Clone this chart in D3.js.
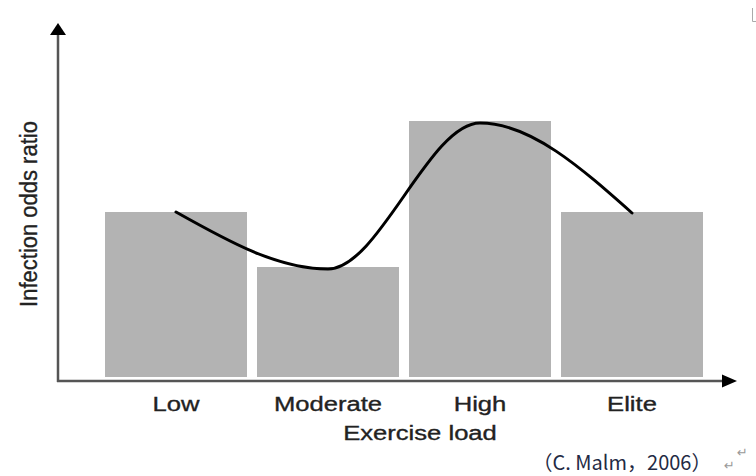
<!DOCTYPE html>
<html><head><meta charset="utf-8">
<script src="https://cdn.jsdelivr.net/npm/d3@7"></script>
<style>
html,body{margin:0;padding:0;background:#fff;}
svg{display:block;}
</style></head>
<body>
<svg id="c" width="756" height="476"></svg>
<script>
// ---- data ----
const categories = ["Low", "Moderate", "High", "Elite"];
const barValues = [165, 110, 256, 165];       // infection odds (arbitrary units)
const curveValues = [165, 108, 254, 164];     // smoothed trend through categories
const xTitle = "Exercise load";
const yTitle = "Infection odds ratio";
const citation = "（C. Malm，2006）";

// ---- layout ----
const svg = d3.select("#c");
const axisX0 = 58, axisY0 = 381;
const x = d3.scaleBand().domain(categories).range([100, 708])
  .paddingInner(0.066).paddingOuter(0.033);
const y = d3.scaleLinear().domain([0, 354]).range([377, 23]);

// bars
svg.append("g").selectAll("rect").data(categories).join("rect")
  .attr("x", d => x(d))
  .attr("width", x.bandwidth())
  .attr("y", (d, i) => y(barValues[i]))
  .attr("height", (d, i) => y(0) - y(barValues[i]))
  .attr("fill", "#b3b3b3");

// curve
const line = d3.line()
  .x((d, i) => x(categories[i]) + x.bandwidth() / 2)
  .y(d => y(d))
  .curve(d3.curveMonotoneX);
svg.append("path").datum(curveValues)
  .attr("d", line)
  .attr("fill", "none")
  .attr("stroke", "#000")
  .attr("stroke-width", 3)
  .attr("stroke-linecap", "round");

// axes lines with arrows
const axisColor = "#555";
svg.append("line").attr("x1", axisX0).attr("y1", axisY0 + 1).attr("x2", axisX0).attr("y2", y(343))
  .attr("stroke", axisColor).attr("stroke-width", 2.5);
svg.append("path")
  .attr("d", `M${axisX0},${y(354)} L${axisX0 - 8},${y(342)} L${axisX0 + 8},${y(342)} Z`)
  .attr("fill", "#000");
svg.append("line").attr("x1", axisX0 - 1).attr("y1", axisY0).attr("x2", 724).attr("y2", axisY0)
  .attr("stroke", axisColor).attr("stroke-width", 2.5);
svg.append("path")
  .attr("d", `M737,${axisY0} L722,${axisY0 - 6.5} L722,${axisY0 + 6.5} Z`)
  .attr("fill", "#000");

// category axis (labels only)
const gx = svg.append("g").attr("transform", `translate(0,${axisY0})`)
  .call(d3.axisBottom(x).tickSize(0).tickPadding(15));
gx.select(".domain").remove();
gx.selectAll("text")
  .attr("font-family", "Liberation Sans, Arial, sans-serif")
  .attr("font-size", 21)
  .attr("fill", "#222")
  .attr("stroke", "#222").attr("stroke-width", 0.35)
  .attr("dy", "0.71em")
  .attr("transform", "scale(1.22,1)")
  .attr("x", 0);

// axis titles
svg.append("text")
  .attr("transform", "translate(420,440) scale(1.22,1)")
  .attr("text-anchor", "middle")
  .attr("font-family", "Liberation Sans, Arial, sans-serif")
  .attr("font-size", 21).attr("fill", "#222")
  .attr("stroke", "#222").attr("stroke-width", 0.35)
  .text(xTitle);
svg.append("text")
  .attr("transform", "translate(37,214) scale(1.12,1) rotate(-90)")
  .attr("text-anchor", "middle")
  .attr("font-family", "Liberation Sans, Arial, sans-serif")
  .attr("font-size", 22).attr("fill", "#222")
  .attr("stroke", "#222").attr("stroke-width", 0.3)
  .text(yTitle);

// citation and editor marks
svg.append("text")
  .attr("x", 622).attr("y", 470)
  .attr("text-anchor", "middle")
  .attr("font-family", "Noto Sans CJK SC, sans-serif")
  .attr("font-size", 20).attr("fill", "#1f2a44")
  .text(citation);
svg.append("text").attr("x", 724).attr("y", 470)
  .attr("font-family", "DejaVu Sans").attr("font-size", 13).attr("fill", "#999").text("↵");
svg.append("text").attr("x", 737).attr("y", 457)
  .attr("font-family", "DejaVu Sans").attr("font-size", 13).attr("fill", "#999").text("↵");
svg.append("path").attr("d", "M752.5,8 L752.5,21.5 L757,21.5")
  .attr("fill", "none").attr("stroke", "#aaa").attr("stroke-width", 1);
</script>
</body></html>
